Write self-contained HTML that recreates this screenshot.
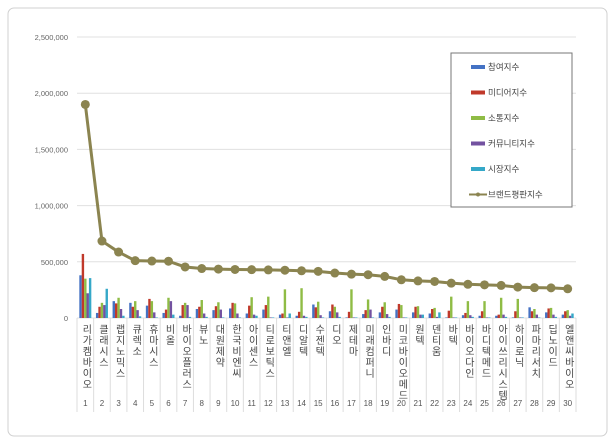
<!DOCTYPE html>
<html><head><meta charset="utf-8"><style>
body{margin:0;background:#fff;font-family:"Liberation Sans","Noto Sans CJK KR",sans-serif}
svg text{font-family:"Liberation Sans","Noto Sans CJK KR",sans-serif}
</style></head><body>
<svg id="c" width="615" height="443">
<rect x="8" y="8" width="599" height="428" rx="6" fill="#fff" stroke="#d0d0d0"/>
</svg>
<script>
const categories=["리가켐바이오","클래시스","랩지노믹스","큐렉소","휴마시스","비올","바이오플러스","뷰노","대원제약","한국비엔씨","아이센스","티로보틱스","티앤엘","디알텍","수젠텍","디오","제테마","미래컴퍼니","인바디","미코바이오메드","원텍","덴티움","바텍","바이오다인","바디텍메드","아이쓰리시스템","하이로닉","파마리서치","딥노이드","엘앤씨바이오"];
const participation=[380000,45000,150000,135000,110000,45000,20000,80000,70000,85000,40000,75000,30000,20000,120000,60000,5000,35000,50000,75000,50000,40000,5000,25000,20000,20000,5000,95000,50000,30000];
const media=[570000,100000,130000,100000,170000,75000,115000,100000,105000,135000,110000,115000,40000,55000,95000,120000,55000,70000,100000,125000,100000,80000,65000,45000,60000,30000,60000,60000,85000,60000];
const communication=[350000,135000,180000,150000,150000,180000,135000,160000,140000,130000,185000,190000,255000,265000,145000,100000,255000,165000,140000,115000,105000,90000,190000,150000,150000,180000,170000,80000,90000,70000];
const community=[220000,115000,80000,70000,50000,150000,115000,40000,75000,40000,30000,5000,5000,20000,25000,50000,5000,75000,35000,5000,30000,10000,5000,25000,5000,30000,5000,30000,30000,20000];
const market=[355000,260000,20000,15000,5000,30000,10000,10000,5000,5000,20000,5000,40000,10000,5000,10000,5000,5000,10000,5000,30000,50000,5000,10000,5000,10000,5000,5000,10000,40000];
const brandIndex=[1900000,685000,587000,510000,507000,505000,454000,440000,435000,432000,430000,428000,425000,420000,415000,400000,390000,385000,370000,340000,330000,325000,310000,300000,295000,290000,275000,270000,268000,260000];
const yTicks=[0,500000,1000000,1500000,2000000,2500000];
const seriesNames=["참여지수","미디어지수","소통지수","커뮤니티지수","시장지수","브랜드평판지수"];
const colors=["#4472c4","#c0392b","#8fbc45","#7352a0","#35a8c8","#8b8450"];
const NS="http://www.w3.org/2000/svg";
const svg=document.getElementById('c');
const x0=77,x1=576,y0=318,yTop=37,yMax=2500000;
const step=(x1-x0)/categories.length;
const Y=v=>y0-(v/yMax)*(y0-yTop);
const X=i=>x0+step*(i+0.5);
function mk(t,a){const e=document.createElementNS(NS,t);for(const k in a)e.setAttribute(k,a[k]);svg.appendChild(e);return e;}
yTicks.forEach(v=>{
  const g=mk('line',{x1:x0,x2:x1,y1:Y(v),y2:Y(v),stroke:'#e0e0e0'});
  
  
  const t=mk('text',{x:68,y:Y(v)+3,'text-anchor':'end','font-size':7.5,fill:'#666'});
  t.textContent=v.toLocaleString('en-US');
  
  
});
const series=[participation,media,communication,community,market];
const bw=2.4;
categories.forEach((c,i)=>{
  series.forEach((s,j)=>{
    const r=mk('rect',{x:X(i)-bw*2.5+j*bw,y:Y(s[i]),width:bw,height:y0-Y(s[i]),fill:colors[j]});
    
    
  });
  const sep=mk('line',{x1:x0+step*(i+1),x2:x0+step*(i+1),y1:y0,y2:412,stroke:'#ddd'});
  
  
  const t=mk('text',{x:X(i),y:324,'font-size':10,fill:'#444',style:'writing-mode:vertical-rl;text-orientation:upright;letter-spacing:1px'});
  t.textContent=c;
  
  
  const n=mk('text',{x:X(i),y:406,'font-size':8,fill:'#555','text-anchor':'middle'});
  n.textContent=String(i+1);
  
  
});
const sepL=mk('line',{x1:x0,x2:x0,y1:y0,y2:412,stroke:'#ddd'});


const pl=mk('polyline',{points:brandIndex.map((v,i)=>X(i)+','+Y(v)).join(' '),fill:'none',stroke:colors[5],'stroke-width':3});


brandIndex.forEach((v,i)=>{
  const p=mk('circle',{cx:X(i),cy:Y(v),r:4.5,fill:colors[5]});
  
  
});
const lg=mk('rect',{x:451,y:53,width:121,height:154,fill:'#fff',stroke:'#777'});


seriesNames.forEach((n,j)=>{
  const y=68+j*25.5;
  if(j<5){const s=mk('rect',{x:471,y:y-3,width:14,height:4,fill:colors[j]});
    }
  else{const s=mk('line',{x1:469,x2:487,y1:y-1,y2:y-1,stroke:colors[5],'stroke-width':2});
    
    const d=mk('circle',{cx:478,cy:y-1,r:2,fill:colors[5]});
    }
  const t=mk('text',{x:488,y:y+2,'font-size':8.5,fill:'#444'});
  t.textContent=n;
  
  
});
</script>
</body></html>
